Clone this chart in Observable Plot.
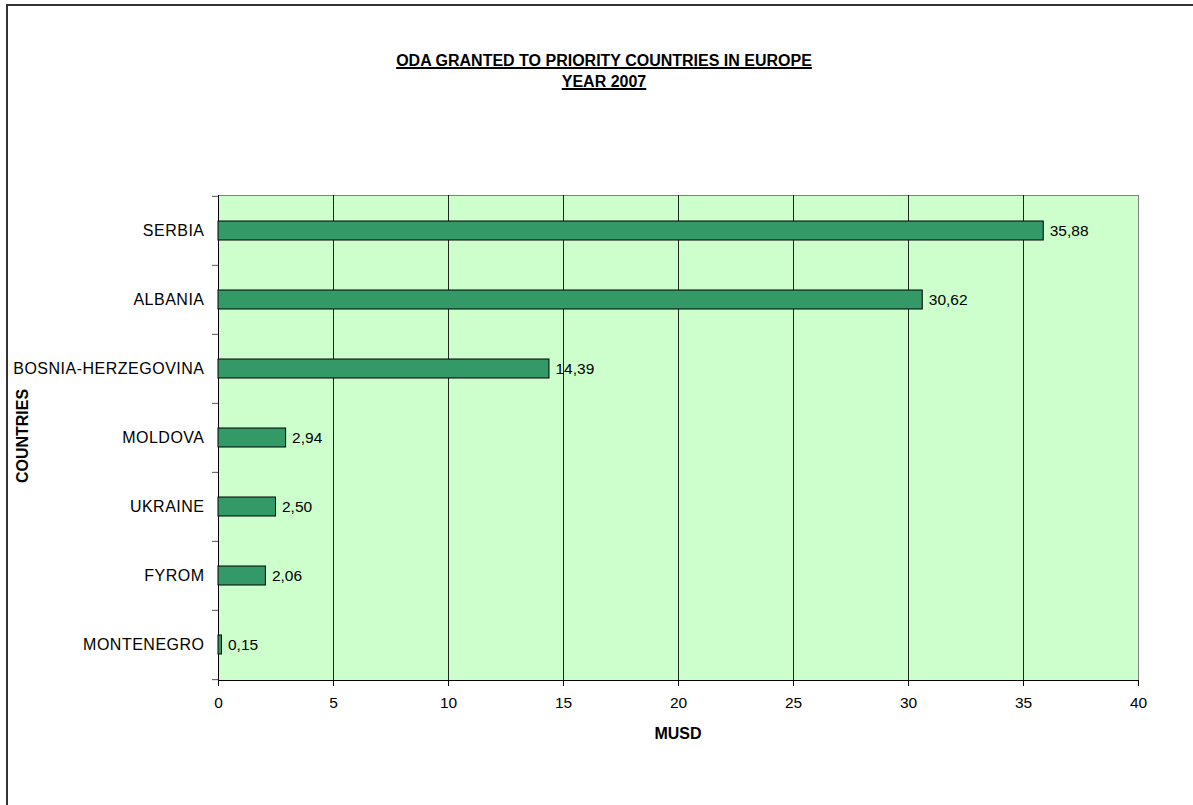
<!DOCTYPE html>
<html>
<head>
<meta charset="utf-8">
<script src="https://cdn.jsdelivr.net/npm/d3@7"></script>
<script src="https://cdn.jsdelivr.net/npm/@observablehq/plot@0.6"></script>
<style>
  body { margin: 0; background: #fff; }
  #wrap { position: relative; width: 1193px; height: 805px; overflow: hidden;
          font-family: Arial, "Liberation Sans", sans-serif; color: #000; }
  #border { position: absolute; left: 6px; top: 4px; width: 1300px; height: 900px;
            border-left: 2px solid #333; border-top: 2px solid #333; }
  #chart { position: absolute; left: 0; top: 0; }
  #title { position: absolute; left: 0; top: 50px; width: 1208px; text-align: center;
           font-weight: bold; font-size: 16px; line-height: 21px; }
  #title span { text-decoration: underline; text-decoration-thickness: 1.5px; }
  #xlabel { position: absolute; left: 0; top: 724px; width: 1356px; text-align: center;
            font-weight: bold; font-size: 16px; line-height: 20px; }
  #ylabel { position: absolute; left: 23px; top: 436px; transform: translate(-50%, -50%) rotate(-90deg);
            font-weight: bold; font-size: 16px; line-height: 18px; white-space: nowrap; }
  g[aria-label="y-axis tick label"] text { letter-spacing: 0.5px; }
</style>
</head>
<body>
<div id="wrap">
  <div id="chart"></div>
  <div id="border"></div>
  <div id="title"><span>ODA GRANTED TO PRIORITY COUNTRIES IN EUROPE</span><br><span>YEAR 2007</span></div>
  <div id="xlabel">MUSD</div>
  <div id="ylabel">COUNTRIES</div>
</div>
<script>
const countries = ["SERBIA", "ALBANIA", "BOSNIA-HERZEGOVINA", "MOLDOVA", "UKRAINE", "FYROM", "MONTENEGRO"];
const values = [35.88, 30.62, 14.39, 2.94, 2.50, 2.06, 0.15];
const xTicks = [0, 5, 10, 15, 20, 25, 30, 35, 40];

const data = countries.map((c, i) => ({country: c, value: values[i]}));
const fmt = v => v.toFixed(2).replace(".", ",");

const W = 1193, H = 805, mT = 195, mB = 125, mL = 218, mR = 55;
const step = (H - mT - mB) / countries.length;

const chart = Plot.plot({
  width: W, height: H,
  marginTop: mT, marginBottom: mB, marginLeft: mL, marginRight: mR,
  style: {fontFamily: "Arial, 'Liberation Sans', sans-serif", fontSize: "15.5px", color: "#000", background: "transparent", overflow: "visible"},
  x: {domain: [0, 40], ticks: xTicks, label: null},
  y: {domain: countries, paddingInner: 0.72, paddingOuter: 0.36, label: null},
  marks: [
    Plot.frame({fill: "#CCFFCC", stroke: "#808080"}),
    Plot.ruleX(xTicks.slice(1, -1), {stroke: "#000", strokeOpacity: 0.85}),
    Plot.frame({anchor: "left", stroke: "#000"}),
    Plot.frame({anchor: "bottom", stroke: "#000"}),
    Plot.barX(data, {x: "value", y: "country", fill: "#339966", stroke: "#000", strokeWidth: 1}),
    Plot.text(data, {x: "value", y: "country", text: d => fmt(d.value), textAnchor: "start", dx: 6, fontSize: 15.5, fill: "#000"}),
    Plot.axisX({ticks: xTicks, tickSize: 6, tickPadding: 10, tickFormat: d => String(d), label: null, fontSize: 15.5}),
    Plot.axisY({tickSize: 0, tickPadding: 14, label: null, fontSize: 16}),
    Plot.axisY({tickSize: 6, tickFormat: () => "", dy: -step / 2, label: null, stroke: "#555"}),
    Plot.axisY(countries.slice(-1), {tickSize: 6, tickFormat: () => "", dy: step / 2, label: null, stroke: "#555"})
  ]
});
document.getElementById("chart").appendChild(chart);
</script>
</body>
</html>
